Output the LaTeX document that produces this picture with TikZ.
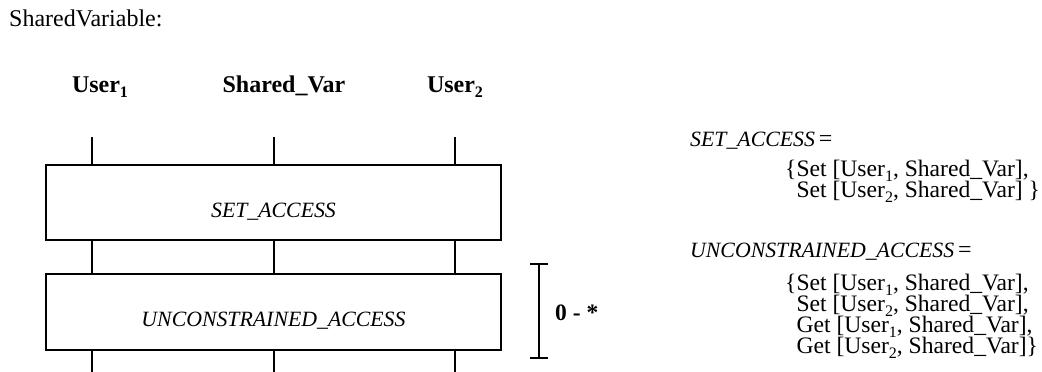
\documentclass[tikz,border=0pt]{standalone}
\usepackage{fontspec}
\setmainfont{Liberation Serif}
\newcommand\lowsub[1]{\raisebox{-5pt}{\fontsize{16}{16}\selectfont #1}}
\newcommand\deflines[1]{\vtop{\baselineskip=21pt\lineskiplimit=-100pt\lineskip=0pt #1}}
\begin{document}
\begin{tikzpicture}[x=1pt,y=-1pt,
  txt/.style={inner sep=0pt, anchor=base west, font=\fontsize{24}{24}\selectfont},
  deftxt/.style={inner sep=0pt, anchor=base west, font=\fontsize{23.6}{21}\selectfont},
  hdr/.style={inner sep=0pt, anchor=base, font=\fontsize{24}{24}\selectfont\bfseries},
  boxnode/.style={draw, line width=1.4pt, minimum width=455pt, inner sep=0pt,
     text height=29pt, text depth=0pt, font=\fontsize{21.8}{21.8}\selectfont\itshape},
  life/.style={line width=2pt},
  brk/.style={line width=1.3pt}]
\useasboundingbox (0,0) rectangle (1042,372);
% title
\node[txt] (title) at (9,26) {SharedVariable:};
% headers
\node[hdr] (h1) at (100,92) {User\lowsub{1}};
\node[hdr] (h2) at (284,92) {Shared\_Var};
\node[hdr] (h3) at (455,92) {User\lowsub{2}};
% lifeline ends
\coordinate (t1) at (92,137);
\coordinate (t2) at (274,137);
\coordinate (t3) at (455,137);
\coordinate (e1) at (92,372);
\coordinate (e2) at (274,372);
\coordinate (e3) at (455,372);
% boxes
\node[boxnode, minimum height=75pt] (b1) at (273.5,202.5) {SET\_ACCESS};
\node[boxnode, minimum height=76pt] (b2) at (273.5,312) {UNCONSTRAINED\_ACCESS};
% lifelines
\foreach \t/\e in {t1/e1,t2/e2,t3/e3}{
  \draw[life] (\t) -- (\t |- b1.north);
  \draw[life] (\t |- b1.south) -- (\t |- b2.north);
  \draw[life] (\t |- b2.south) -- (\e);
}
% repetition bracket
\coordinate (bt) at (539,264);
\coordinate (bb) at (539,358);
\draw[brk] (bt) -- (bb);
\draw[brk] ([xshift=-9pt]bt) -- ([xshift=9pt]bt);
\draw[brk] ([xshift=-9pt]bb) -- ([xshift=9pt]bb);
\node[txt, font=\fontsize{23.5}{23.5}\selectfont\bfseries] (rep) at (555,320) {0 - *};
% definitions
\node[txt] (d1) at (690,146) {{\fontsize{21.8}{21.8}\selectfont\itshape SET\_ACCESS}\,=};
\node[deftxt] (d1l) at (785,176) {\deflines{%
  \hbox{\{Set [User\lowsub{1}, Shared\_Var],}%
  \hbox{\phantom{\{}Set [User\lowsub{2}, Shared\_Var] \}}}};
\node[txt] (d2) at (690,257) {{\fontsize{21.8}{21.8}\selectfont\itshape UNCONSTRAINED\_ACCESS}\,=};
\node[deftxt] (d2l) at (785,290) {\deflines{%
  \hbox{\{Set [User\lowsub{1}, Shared\_Var],}%
  \hbox{\phantom{\{}Set [User\lowsub{2}, Shared\_Var],}%
  \hbox{\phantom{\{}Get [User\lowsub{1}, Shared\_Var],}%
  \hbox{\phantom{\{}Get [User\lowsub{2}, Shared\_Var]\}}}};
\end{tikzpicture}
\end{document}
